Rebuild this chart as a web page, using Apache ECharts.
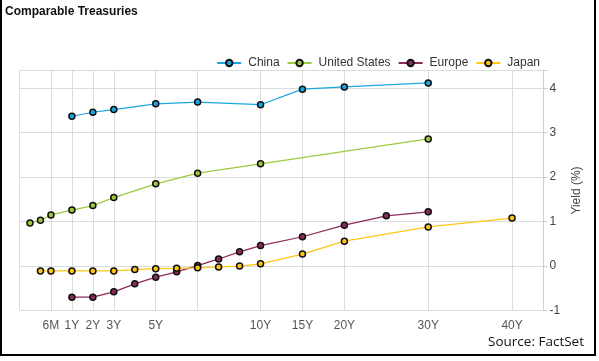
<!DOCTYPE html>
<html>
<head>
<meta charset="utf-8">
<script src="https://cdn.jsdelivr.net/npm/echarts@6/dist/echarts.min.js"></script>
<style>
html,body{margin:0;padding:0;background:#fff;}
#c{width:599px;height:361px;}
</style>
</head>
<body>
<div id="c"></div>
<script>
// Axis layout: tenor -> slot position on the custom maturity axis
const tenorSlots = {'1M':-1,'3M':-0.5,'6M':0,'1Y':1,'2Y':2,'3Y':3,'4Y':4,'5Y':5,'6Y':6,'7Y':7,'8Y':8,'9Y':9,'10Y':10,'15Y':12,'20Y':14,'25Y':16,'30Y':18,'40Y':22};
const labelTenors = ['6M','1Y','2Y','3Y','5Y','10Y','15Y','20Y','30Y','40Y'];
const gridTenors = ['6M','1Y','2Y','3Y','5Y','7Y','10Y','15Y','20Y','30Y','40Y'];

const chinaTenors = ['1Y','2Y','3Y','5Y','7Y','10Y','15Y','20Y','30Y'];
const chinaYields = [3.37,3.46,3.52,3.65,3.69,3.63,3.98,4.03,4.12];

const usTenors = ['1M','3M','6M','1Y','2Y','3Y','5Y','7Y','10Y','30Y'];
const usYields = [0.97,1.03,1.15,1.26,1.36,1.54,1.85,2.09,2.30,2.86];

const europeTenors = ['1Y','2Y','3Y','4Y','5Y','6Y','7Y','8Y','9Y','10Y','15Y','20Y','25Y','30Y'];
const europeYields = [-0.70,-0.70,-0.58,-0.40,-0.25,-0.13,0.01,0.16,0.32,0.46,0.66,0.92,1.13,1.22];

const japanTenors = ['3M','6M','1Y','2Y','3Y','4Y','5Y','6Y','7Y','8Y','9Y','10Y','15Y','20Y','30Y','40Y'];
const japanYields = [-0.11,-0.11,-0.11,-0.11,-0.11,-0.08,-0.06,-0.05,-0.04,-0.02,0.00,0.05,0.27,0.56,0.88,1.08];

const yTicks = [-1,0,1,2,3,4];

// build category list on half-slot steps from -1.5 to 23.5
const slotToTenor = {};
Object.keys(tenorSlots).forEach(t => { slotToTenor[tenorSlots[t]] = t; });
const categories = [];
for (let i = 0; i <= 50; i++) {
  const s = -1.5 + i * 0.5;
  categories.push(slotToTenor[s] !== undefined ? slotToTenor[s] : '\u200b' + i);
}

function mk(tenors, vals) { return tenors.map((t, k) => [t, vals[k]]); }

const chart = echarts.init(document.getElementById('c'), null, {renderer: 'canvas'});
const font = '"Liberation Sans", Arial, sans-serif';
function series(name, color, tenors, vals) {
  return {
    name: name, type: 'line', data: mk(tenors, vals),
    symbol: 'circle', symbolSize: 6, showAllSymbol: true,
    lineStyle: {color: color, width: 1.2},
    itemStyle: {color: color, borderColor: '#111', borderWidth: 1.5},
    emphasis: {disabled: true}, animation: false
  };
}
chart.setOption({
  animation: false,
  textStyle: {fontFamily: font},
  title: {text: 'Comparable Treasuries', left: 0, top: 1,
    textStyle: {fontSize: 12, fontWeight: 'bold', color: '#111', fontFamily: font}},
  legend: {
    right: 54, top: 52, itemWidth: 24, itemHeight: 8, itemGap: 7,
    textStyle: {fontSize: 12, color: '#333', padding: [0, 0, 0, 2], fontFamily: font},
    data: ['China', 'United States', 'Europe', 'Japan']
  },
  grid: {left: 19.5, right: 55.5, top: 70.5, bottom: 50.5},
  xAxis: {
    type: 'category', data: categories, boundaryGap: false,
    axisLine: {show: false}, axisTick: {show: false},
    axisLabel: {interval: (i, v) => labelTenors.includes(v), color: '#555', fontSize: 12, margin: 9, fontFamily: font},
    splitLine: {show: true, interval: (i, v) => gridTenors.includes(v) || i === 0, lineStyle: {color: '#dcdcdc', width: 1}}
  },
  yAxis: {
    type: 'value', position: 'right', min: -1, max: 4.4, interval: 1,
    name: 'Yield (%)', nameLocation: 'middle', nameRotate: 90, nameGap: 21,
    nameTextStyle: {color: '#444', fontSize: 12, fontFamily: font},
    axisLine: {show: true, lineStyle: {color: '#cfcfcf'}},
    axisTick: {show: true, length: 4, lineStyle: {color: '#cfcfcf'}},
    axisLabel: {formatter: v => yTicks.includes(v) ? String(v) : '', color: '#444', fontSize: 12, margin: 6, fontFamily: font},
    splitLine: {show: true, lineStyle: {color: '#dcdcdc', width: 1}}
  },
  series: [
    series('China', '#1aa6e0', chinaTenors, chinaYields),
    series('United States', '#9cc93e', usTenors, usYields),
    series('Europe', '#8c2b5b', europeTenors, europeYields),
    series('Japan', '#ffc712', japanTenors, japanYields)
  ],
  graphic: [
    {type: 'rect', shape: {x: 1, y: -1, width: 594, height: 356}, style: {fill: 'none', stroke: '#000', lineWidth: 2}, silent: true},
    {type: 'text', right: 15, top: 335, style: {text: 'Source: FactSet', font: '13.5px "Open Sans", sans-serif', fill: '#111'}}
  ]
});
</script>
</body>
</html>
